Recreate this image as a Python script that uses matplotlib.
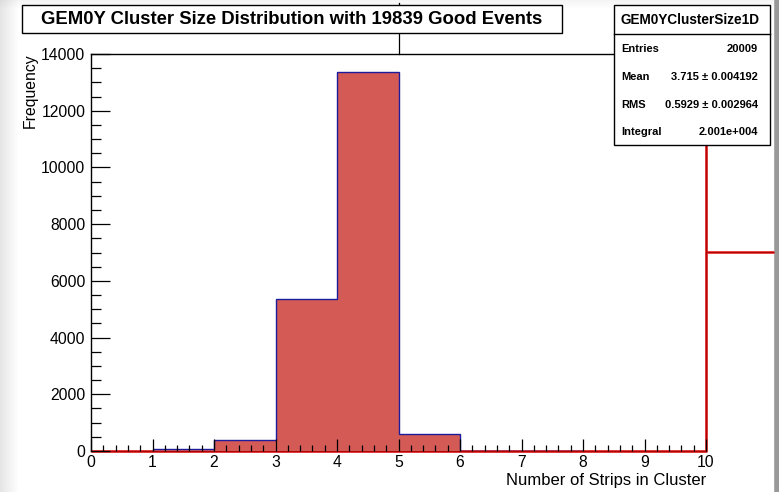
import numpy as np
import matplotlib
matplotlib.use("Agg")
import matplotlib.pyplot as plt
from matplotlib.patches import Rectangle
from matplotlib.lines import Line2D
from matplotlib.ticker import MultipleLocator

# ---- data -------------------------------------------------------------
bin_edges = [0, 1, 2, 3, 4, 5, 6, 7, 8, 9, 10]
counts = [0, 85, 380, 5370, 13360, 610, 15, 5, 0, 0]
reference_level = 7020          # red reference curve level beyond the axis range
x_ticks = [0, 1, 2, 3, 4, 5, 6, 7, 8, 9, 10]
y_ticks = [0, 2000, 4000, 6000, 8000, 10000, 12000, 14000]

title = "GEM0Y Cluster Size Distribution with 19839 Good Events"
x_title = "Number of Strips in Cluster"
y_title = "Frequency"
stats_name = "GEM0YClusterSize1D"
stats_labels = ["Entries", "Mean", "RMS", "Integral"]
stats_values = ["20009", "3.715 \u00b1 0.004192", "0.5929 \u00b1 0.002964", "2.001e+004"]

# ---- figure -----------------------------------------------------------
W, H = 779, 492
plt.rcParams["font.family"] = ["Liberation Sans", "DejaVu Sans"]
fig = plt.figure(figsize=(W / 100, H / 100), dpi=100)
fig.patch.set_facecolor("white")


def fx(px):
    return px / W


def fy(py):
    return 1 - py / H


# soft window shading round the canvas
bg = np.ones((H, W, 3))
xs = np.arange(W)
left = np.clip(xs / 18.0, 0, 1)
shade = 0.90 + 0.10 * left
bg *= shade[None, :, None]
ys = np.arange(H)
top = 0.96 + 0.04 * np.clip(ys / 8.0, 0, 1)
bg *= top[:, None, None]
bg[:, 774:, :] = 0.60
bg[:, 774, :] = 0.68
bga = fig.add_axes([0, 0, 1, 1], zorder=-10)
bga.imshow(bg, aspect="auto", extent=[0, 1, 0, 1], interpolation="bilinear")
bga.axis("off")

# ---- main frame -------------------------------------------------------
x0, x1, yb, yt = 91, 706, 451, 54
ax = fig.add_axes([fx(x0), fy(yb), fx(x1) - fx(x0), fy(yt) - fy(yb)])
ax.set_facecolor("none")
ax.set_xlim(bin_edges[0], bin_edges[-1])
ax.set_ylim(0, 14000)
ax.set_axisbelow(False)

# red reference curve: bright rim with a slightly darker core
ymax = ax.get_ylim()[1]
x_right = bin_edges[-1] + (774 - x1) / (x1 - x0) * (bin_edges[-1] - bin_edges[0])
red_paths = [
    ([bin_edges[0], bin_edges[-1], bin_edges[-1]], [0, 0, ymax]),
    ([bin_edges[-1], x_right], [reference_level, reference_level]),
]
for xs_, ys_ in red_paths:
    ax.plot(xs_, ys_, color="#e42020", lw=1.9, zorder=1.2, clip_on=False,
            solid_capstyle="butt")
    ax.plot(xs_, ys_, color="#a80000", lw=0.6, zorder=1.25, clip_on=False,
            solid_capstyle="butt")

# histogram: filled steps with a blue outline over the populated bins
cnt = np.array(counts, dtype=float)
edges = np.array(bin_edges, dtype=float)
nz = np.nonzero(cnt)[0]
lo, hi = nz[0], nz[-1] + 1
ax.stairs(cnt, edges, fill=True, facecolor="#d45a56", edgecolor="none",
          zorder=1.3)
ax.stairs(cnt[lo:hi], edges[lo:hi + 1], color="#1c1c9c", lw=1.0, zorder=1.4,
          baseline=0)

for name, s in ax.spines.items():
    s.set_color("black")
    s.set_linewidth(1.0)
    s.set_zorder(1.1)

ax.set_xticks(x_ticks)
ax.set_yticks(y_ticks)
ax.xaxis.set_minor_locator(MultipleLocator(0.2))
ax.yaxis.set_minor_locator(MultipleLocator(500))
ax.tick_params(axis="x", which="major", direction="in", length=12 * 0.72,
               width=0.9, labelsize=11.3, pad=3, top=False)
ax.tick_params(axis="x", which="minor", direction="in", length=6.5 * 0.72,
               width=0.9, top=False)
ax.tick_params(axis="y", which="major", direction="in", length=19 * 0.72,
               width=0.9, labelsize=11.3, pad=4, right=False)
ax.tick_params(axis="y", which="minor", direction="in", length=10 * 0.72,
               width=0.9, right=False)

# axis titles
fig.text(fx(30), fy(53), y_title, rotation=90, ha="center", va="top",
         fontsize=11.3)
fig.text(fx(706), fy(480), x_title, ha="right", va="center", fontsize=12)

# marker line from the top edge down to the frame at x = 5
ax.add_line(Line2D([5, 5], [1, 1 + (yt - 3) / (yb - yt)],
                   transform=ax.get_xaxis_transform(), color="black",
                   lw=0.9, clip_on=False, zorder=1))

# ---- title box --------------------------------------------------------
tb = Rectangle((fx(22), fy(33)), fx(562) - fx(22), fy(5) - fy(33),
               transform=fig.transFigure, facecolor="white",
               edgecolor="black", lw=1.0, zorder=20)
fig.add_artist(tb)
fig.text(fx(292), fy(19), title, ha="center", va="center", fontsize=13.3,
         fontweight="bold", zorder=21)

# ---- statistics box ---------------------------------------------------
sb = Rectangle((fx(614), fy(145)), fx(770) - fx(614), fy(5) - fy(145),
               transform=fig.transFigure, facecolor="white",
               edgecolor="black", lw=1.0, zorder=20)
fig.add_artist(sb)
fig.add_artist(Line2D([fx(614), fx(770)], [fy(34), fy(34)],
                      transform=fig.transFigure, color="black", lw=1.0,
                      zorder=21))
fig.text(fx(690), fy(20), stats_name, ha="center", va="center", fontsize=9.8,
         fontweight="bold", zorder=22)
for i, (lab, val) in enumerate(zip(stats_labels, stats_values)):
    yy = 49 + i * 27.8
    fig.text(fx(621), fy(yy), lab, ha="left", va="center", fontsize=8,
             fontweight="bold", zorder=22)
    fig.text(fx(758), fy(yy), val, ha="right", va="center", fontsize=8,
             fontweight="bold", zorder=22)

fig.savefig("out.png", dpi=100)
